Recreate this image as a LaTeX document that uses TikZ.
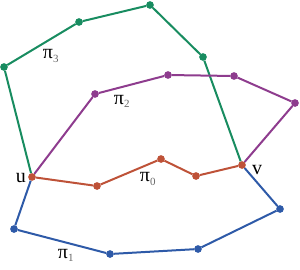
\documentclass[tikz,border=0pt]{standalone}
\usepackage{fontspec}
\setmainfont{Liberation Serif}
\usepackage{tikz}
\usetikzlibrary{positioning}
\definecolor{pgreen}{RGB}{24,140,96}
\definecolor{ppurple}{RGB}{142,60,142}
\definecolor{pred}{RGB}{190,82,56}
\definecolor{pblue}{RGB}{46,90,168}
\tikzstyle{pdot} = [circle, inner sep=0pt, minimum size=7.4pt]
\tikzstyle{gdot} = [pdot, fill=pgreen]
\tikzstyle{mdot} = [pdot, fill=ppurple]
\tikzstyle{rdot} = [pdot, fill=pred]
\tikzstyle{bdot} = [pdot, fill=pblue]
\tikzstyle{pline} = [line width=2pt, line join=round]
\tikzstyle{plabel} = [inner sep=0pt, font=\fontsize{20}{24}\selectfont]
\newcommand{\pathlab}[1]{π\textsubscript{\textcolor{black!60}{\fontsize{11}{13}\selectfont #1}}}

\begin{document}
\begin{tikzpicture}[x=1pt, y=-1pt]
\useasboundingbox (0,0) rectangle (300,269);

% end points
\node (u) [rdot] at (32,177) {};
\node (v) [rdot] at (242,165) {};

% pi_3
\node (g1) [gdot] at (4,67) {};
\node (g2) [gdot] at (79,22) {};
\node (g3) [gdot] at (150,5) {};
\node (g4) [gdot] at (203,57) {};

% pi_2
\node (m1) [mdot] at (95,94) {};
\node (m2) [mdot] at (168,75) {};
\node (m3) [mdot] at (234,76) {};
\node (m4) [mdot] at (295,103) {};

% pi_0
\node (r1) [rdot] at (97,186) {};
\node (r2) [rdot] at (161,159) {};
\node (r3) [rdot] at (196,176) {};

% pi_1
\node (b1) [bdot] at (14,229) {};
\node (b2) [bdot] at (110,254) {};
\node (b3) [bdot] at (198,249) {};
\node (b4) [bdot] at (280,209) {};

\draw [pline, pgreen] (u) -- (g1) -- (g2) -- (g3) -- (g4) -- (v);
\draw [pline, ppurple] (u) -- (m1) -- (m2) -- (m3) -- (m4) -- (v);
\draw [pline, pblue] (u) -- (b1) -- (b2) -- (b3) -- (b4) -- (v);
\draw [pline, pred] (u) -- (r1) -- (r2) -- (r3) -- (v);

% redraw dots on top
\foreach \n in {g1,g2,g3,g4} \fill [pgreen] (\n) circle (3.7pt);
\foreach \n in {m1,m2,m3,m4} \fill [ppurple] (\n) circle (3.7pt);
\foreach \n in {b1,b2,b3,b4} \fill [pblue] (\n) circle (3.7pt);
\foreach \n in {u,v,r1,r2,r3} \fill [pred] (\n) circle (3.7pt);

\node (lu) [plabel, left=2pt of u, yshift=-1pt] {u};
\node (lv) [plabel, right=6pt of v, yshift=-5pt] {v};
\node (l3) [plabel] at (51,56) {\pathlab{3}};
\node (l2) [plabel] at (122,101) {\pathlab{2}};
\node (l0) [plabel] at (148,179) {\pathlab{0}};
\node (l1) [plabel] at (66,255) {\pathlab{1}};

\end{tikzpicture}
\end{document}
